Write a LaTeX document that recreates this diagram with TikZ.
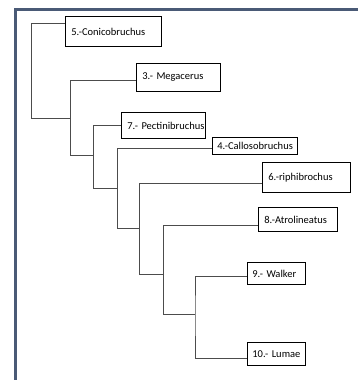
\documentclass[tikz,border=0pt]{standalone}
\usepackage{fontspec}
\setmainfont{Carlito}
\begin{document}
\begin{tikzpicture}[x=1pt,y=-1pt,
  tbox/.style={draw=black, line width=0.8pt, anchor=north west, align=left,
    inner xsep=6pt, inner ysep=0pt, font=\fontsize{10.5}{12}\selectfont},
  conn/.style={draw=black!70, line width=0.9pt},
  frame/.style={draw=frameblue, line width=3pt}]
\definecolor{frameblue}{RGB}{74,90,118}
\useasboundingbox (0,0) rectangle (358,380);
% frame
\draw[frame] (15.5,380) -- (15.5,9.5) -- (358,9.5);
% boxes
\node[tbox, text width=84pt, minimum height=30pt] (b5) at (65,16) {\mbox{5.-Conicobruchus}};
\node[tbox, text width=72pt, minimum height=28pt] (b3) at (136,63) {\mbox{3.- Megacerus}};
\node[tbox, text width=72pt, minimum height=26pt] (b7) at (121,112) {\mbox{7.- Pectinibruchus}};
\node[tbox, inner xsep=5pt, text width=75pt, minimum height=17pt] (b4) at (212,137) {\mbox{4.-Callosobruchus}};
\node[tbox, text width=76pt, minimum height=30pt] (b6) at (262,162) {\mbox{6.-riphibrochus}};
\node[tbox, text width=67pt, minimum height=24pt] (b8) at (258,207) {\mbox{8.-Atrolineatus}};
\node[tbox, inner xsep=5pt, text width=48pt, minimum height=22pt] (b9) at (247,262) {\mbox{9.- Walker}};
\node[tbox, inner xsep=5pt, text width=48pt, minimum height=23pt] (b10) at (247,342) {\mbox{10.- Lumae}};
% junctions
\coordinate (Ab) at (31,118);
\coordinate (Bm) at (70,118);
\coordinate (Bb) at (70,155);
\coordinate (Cm) at (93,155);
\coordinate (Cb) at (93,188);
\coordinate (Dm) at (117,188);
\coordinate (Db) at (117,228);
\coordinate (Em) at (139,228);
\coordinate (Eb) at (139,274);
\coordinate (Fm) at (163,274);
\coordinate (Fb) at (163,314);
\coordinate (Gm) at (195,314);
% connectors
\draw[conn] ([yshift=8pt]b5.west) -| (Ab) -- (Bm);
\draw[conn] ([yshift=-3pt]b3.west) -| (Bb) -- (Cm);
\draw[conn] ([yshift=0pt]b7.west) -| (Cb) -- (Dm);
\draw[conn] ([yshift=-3pt]b4.west) -| (Db) -- (Em);
\draw[conn] ([yshift=-6pt]b6.west) -| (Eb) -- (Fm);
\draw[conn] ([yshift=-6pt]b8.west) -| (Fb) -- (Gm);
\draw[conn] ([yshift=-3pt]b9.west) -| (Gm) |- ([yshift=-4.5pt]b10.west);
\end{tikzpicture}
\end{document}
